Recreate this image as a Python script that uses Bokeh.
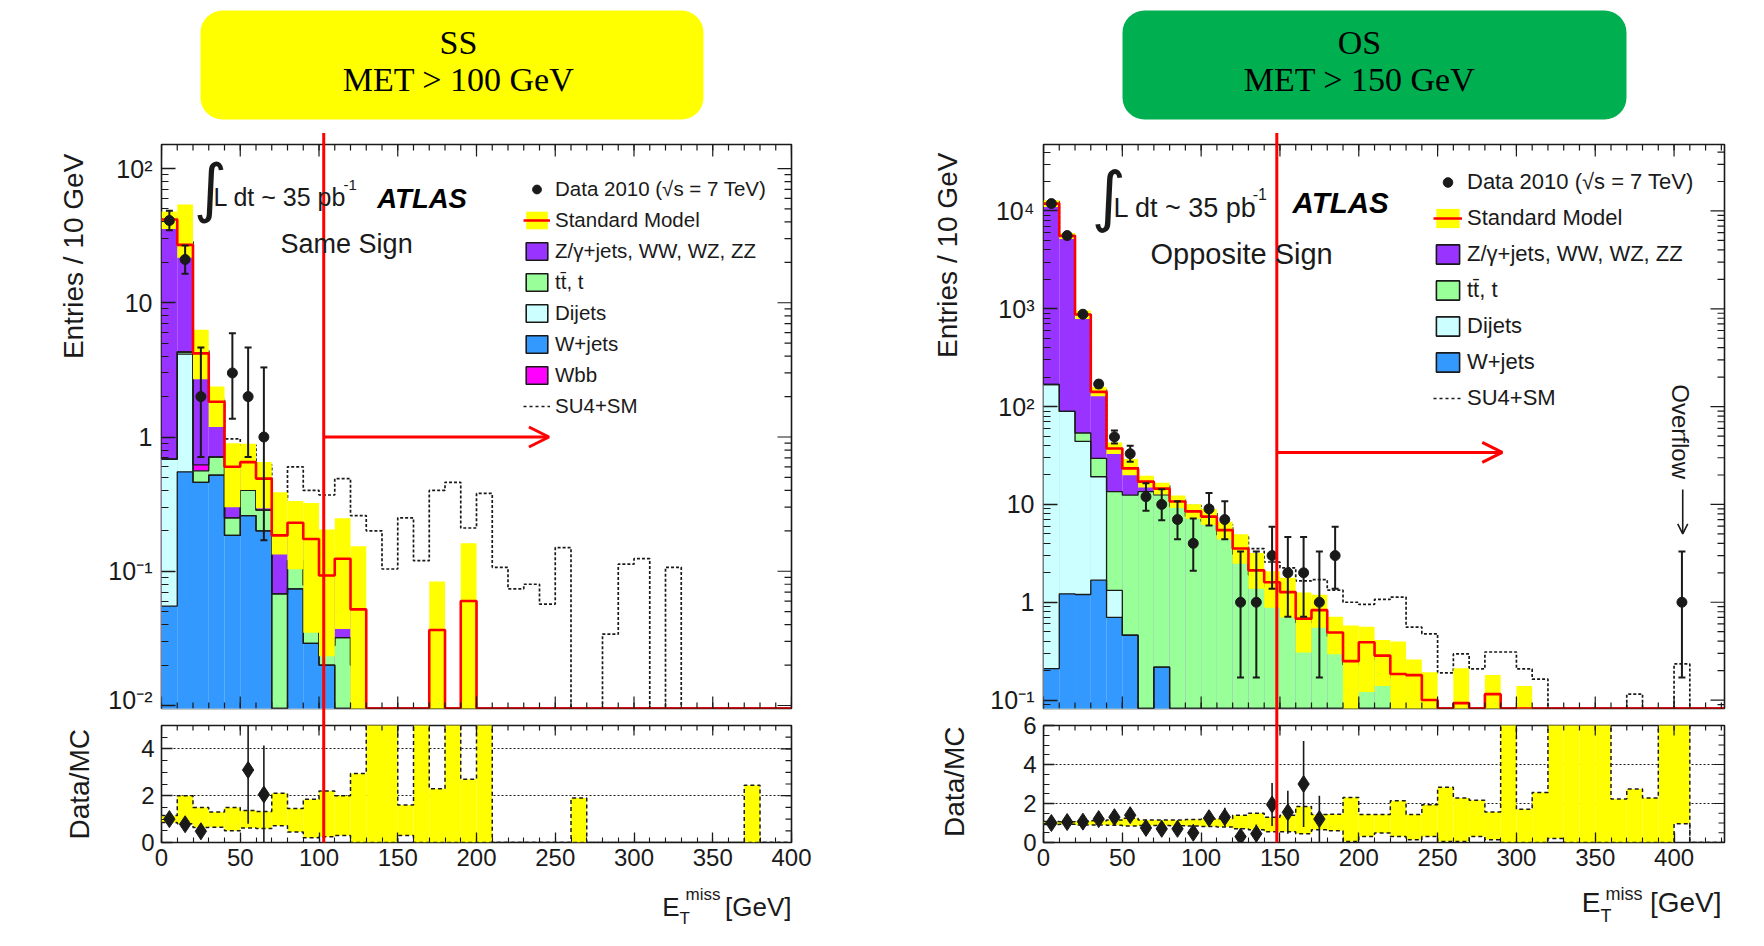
import math

from bokeh.core.properties import value
from bokeh.embed import file_html
from bokeh.layouts import column, row
from bokeh.models import (Arrow, FixedTicker, Legend, LegendItem, OpenHead, Range1d)
from bokeh.plotting import figure
from bokeh.resources import INLINE

BIN = 10  # GeV per histogram bin

# ---------------------------------------------------------------- style
C_Z, C_TT, C_QCD, C_W, C_WBB = "#9933ff", "#99ff99", "#ccffff", "#3399ff", "#ff00ff"
C_BAND, C_SM = "#ffff00", "#ff0000"
INK = "#1a1a1a"
SANS, SERIF = "Liberation Sans", "Liberation Serif"

# ---------------------------------------------------------------- same-sign channel (0-400 GeV)
ss_wjets = [0.055, 0.55, 0.46, 0.52, 0.185, 0.26, 0.20, 0, 0.074, 0.029,
            0.02, 0, 0, 0, 0, 0, 0, 0, 0, 0,
            0, 0, 0, 0, 0, 0, 0, 0, 0, 0,
            0, 0, 0, 0, 0, 0, 0, 0, 0, 0]
ss_dijets = [0.63, 3.6, 0, 0, 0, 0, 0, 0, 0, 0,
             0, 0, 0, 0, 0, 0, 0, 0, 0, 0,
             0, 0, 0, 0, 0, 0, 0, 0, 0, 0,
             0, 0, 0, 0, 0, 0, 0, 0, 0, 0]
ss_ttbar = [0, 0.15, 0.10, 0.19, 0.065, 0.14, 0.085, 0.068, 0.046, 0.05,
            0.008, 0.032, 0.02, 0, 0, 0, 0, 0, 0, 0,
            0, 0, 0, 0, 0, 0, 0, 0, 0, 0,
            0, 0, 0, 0, 0, 0, 0, 0, 0, 0]
ss_wbb = [0, 0, 0.06, 0, 0, 0, 0, 0, 0, 0,
          0, 0, 0, 0, 0, 0, 0, 0, 0, 0,
          0, 0, 0, 0, 0, 0, 0, 0, 0, 0,
          0, 0, 0, 0, 0, 0, 0, 0, 0, 0]
ss_zjets = [41.0, 22.7, 3.58, 1.12, 0.35, 0.25, 0.205, 0.117, 0.11, 0.095,
            0.065, 0.092, 0.032, 0, 0, 0, 0, 0.0365, 0, 0.060,
            0, 0, 0, 0, 0, 0, 0, 0, 0, 0,
            0, 0, 0, 0, 0, 0, 0, 0, 0, 0]
ss_su4 = [43.0, 28.5, 4.4, 1.95, 0.97, 0.87, 0.62, 0.34, 0.60, 0.40,
          0.37, 0.49, 0.26, 0.20, 0.104, 0.25, 0.12, 0.40, 0.46, 0.21,
          0.38, 0.107, 0.074, 0.080, 0.057, 0.15, 0, 0, 0.034, 0.113,
          0.124, 0, 0.107, 0, 0, 0, 0, 0, 0, 0]
# relative SM uncertainty (band / SM)
ss_band_lo = [0.85, 0.80, 0.64, 0.65, 0.50, 0.62, 0.60, 0.72, 0.45, 0.20,
              0.25, 0.30, 0.0, 0.0, 0.0, 0.30, 0.0, 0.0, 0.0, 0.0,
              0, 0, 0, 0, 0, 0, 0, 0, 0, 0,
              0, 0, 0, 0, 0, 0, 0, 0, 0, 0]
ss_band_hi = [1.15, 2.0, 1.5, 1.3, 1.5, 1.37, 1.33, 2.1, 1.45, 1.85,
              2.2, 2.0, 2.95, 6.0, 6.0, 1.6, 6.0, 2.3, 6.0, 2.7,
              6.0, 0, 0, 0, 0, 0, 1.9, 0, 0, 0,
              0, 0, 0, 0, 0, 0, 0, 2.45, 0, 0]
ss_data_bin = [0, 1, 2, 4, 5, 6]
ss_data = [41, 21, 2, 3, 2, 1]
ss_data_lo = [6.38, 4.55, 1.29, 1.63, 1.29, 0.83]
ss_data_hi = [7.45, 5.69, 2.64, 2.92, 2.64, 2.30]
ss_ratio_bin = [0, 1, 2, 5, 6]
ss_ratio = [1.0, 0.78, 0.48, 3.1, 2.05]
ss_ratio_err = [0.16, 0.17, 0.34, 2.3, 2.1]
ss_title = ["SS", "MET > 100 GeV"]
ss_cut = 103

# ---------------------------------------------------------------- opposite-sign channel (0-410 GeV, last bin = overflow)
os_wjets = [0.21, 1.22, 1.20, 1.68, 0.70, 0.46, 0, 0.217, 0, 0,
            0, 0, 0, 0, 0, 0, 0, 0, 0, 0,
            0, 0, 0, 0, 0, 0, 0, 0, 0, 0,
            0, 0, 0, 0, 0, 0, 0, 0, 0, 0,
            0]
os_dijets = [168, 88, 43, 17.5, 0.62, 0, 0, 0, 0, 0,
             0, 0, 0, 0, 0, 0, 0, 0, 0, 0,
             0, 0, 0, 0, 0, 0, 0, 0, 0, 0,
             0, 0, 0, 0, 0, 0, 0, 0, 0, 0,
             0]
os_ttbar = [0, 0, 9.5, 10.4, 12.2, 12.0, 13.5, 12.3, 9.5, 7.6,
            6.7, 4.9, 3.1, 1.9, 1.45, 1.15, 0.62, 0.75, 0.45, 0.23,
            0.36, 0.26, 0.17, 0.165, 0.10, 0.02, 0.093, 0.03, 0.115, 0.01,
            0.082, 0.02, 0.005, 0.005, 0.005, 0.005, 0.02, 0.02, 0.02, 0.005,
            0.01]
os_zjets = [11730, 5480, 821, 112, 23.8, 10.9, 3.6, 2.0, 1.2, 0.9,
            0.8, 0.56, 0.44, 0.22, 0.15, 0.12, 0.06, 0.08, 0.04, 0.02,
            0.03, 0.025, 0.015, 0.015, 0, 0, 0, 0, 0, 0,
            0, 0, 0, 0, 0, 0, 0, 0, 0, 0,
            0]
os_su4 = [12500, 5700, 900, 148, 39, 24.5, 18, 15.5, 11.5, 9.7,
          8.2, 6.2, 4.67, 3.54, 2.58, 2.25, 1.65, 1.7, 1.33, 1.0,
          0.95, 1.07, 1.13, 0.557, 0.476, 0.19, 0.296, 0.208, 0.31, 0.31,
          0.208, 0.164, 0, 0, 0, 0, 0, 0.115, 0, 0,
          0.234]
os_band_lo = [0.92, 0.93, 0.90, 0.90, 0.88, 0.85, 0.87, 0.87, 0.86, 0.84,
              0.82, 0.80, 0.70, 0.65, 0.55, 0.55, 0.45, 0.66, 0.60, 0.05,
              0.31, 0.49, 0.31, 0.14, 0.31, 0.05, 0.05, 0.31, 0.14, 0.0,
              0.0, 0.0, 0.20, 0.0, 0.0, 0.0, 0.0, 0.0, 0.0, 0.0,
              0.96]
os_band_hi = [1.08, 1.07, 1.10, 1.12, 1.15, 1.25, 1.15, 1.15, 1.15, 1.18,
              1.20, 1.22, 1.40, 1.50, 1.30, 1.40, 1.85, 1.44, 1.45, 2.31,
              1.44, 1.44, 2.14, 1.44, 1.93, 2.83, 2.28, 2.17, 1.57, 7.0,
              1.70, 2.57, 7.0, 7.0, 7.0, 7.0, 2.23, 2.75, 2.28, 7.0,
              7.0]
os_data_bin = [0, 1, 2, 3, 4, 5, 6, 7, 8, 9, 10, 11, 12, 13, 14, 15, 16, 17, 18, 40]
os_data = [11900, 5600, 880, 170, 49, 33, 12, 10, 7, 4, 9, 7, 1, 1, 3, 2, 2, 1, 3, 1]
os_data_lo = [109, 75, 29.7, 13.0, 7.0, 5.7, 3.4, 3.1, 2.6, 1.9, 2.9, 2.6,
              0.83, 0.83, 1.63, 1.29, 1.29, 0.83, 1.63, 0.83]
os_data_hi = [110, 76, 30.7, 14.0, 8.0, 6.8, 4.5, 4.3, 3.8, 3.2, 4.1, 3.8,
              2.30, 2.30, 2.92, 2.64, 2.64, 2.30, 2.92, 2.30]
os_ratio_bin = [0, 1, 2, 3, 4, 5, 6, 7, 8, 9, 10, 11, 12, 13, 14, 15, 16, 17]
os_ratio = [1.0, 1.05, 1.07, 1.2, 1.3, 1.4, 0.75, 0.7, 0.7, 0.5, 1.25, 1.3,
            0.3, 0.45, 1.95, 1.55, 3.0, 1.2]
os_ratio_err = [0.01, 0.015, 0.036, 0.09, 0.19, 0.25, 0.21, 0.19, 0.25, 0.22, 0.4, 0.48,
                0.28, 0.47, 1.1, 1.1, 2.2, 1.2]
os_title = ["OS", "MET > 150 GeV"]
os_cut = 148

LBL_DATA = "Data 2010 (\u221as = 7 TeV)"
LBL_SM = "Standard Model"
LBL_Z = "Z/\u03b3+jets, WW, WZ, ZZ"
LBL_TT = "tt\u0304, t"
LBL_QCD = "Dijets"
LBL_W = "W+jets"
LBL_WBB = "Wbb"
LBL_SU4 = "SU4+SM"

MAIN_H, RATIO_H = 564, 117  # frame heights shared by both channels


def cumulative(layers):
    out, run = [], [0.0] * len(layers[0])
    for vals in layers:
        run = [a + b for a, b in zip(run, vals)]
        out.append(run)
    return out


def step_xy(vals, floor, xmax):
    xs = [i * BIN for i in range(len(vals))]
    ys = [max(v, floor) for v in vals]
    last = len(vals) * BIN
    xs.append(last)
    ys.append(ys[-1])
    if xmax > last:
        xs += [last, xmax]
        ys += [floor, floor]
    return xs, ys


def style_axis(ax, ticker, labels=None, size="24px", major=13, minor=7, standoff=9):
    ax.ticker = ticker
    ax.axis_line_color = None
    ax.axis_label = None
    ax.major_tick_in, ax.major_tick_out = major, 0
    ax.minor_tick_in, ax.minor_tick_out = minor, 0
    ax.major_tick_line_color = INK
    ax.minor_tick_line_color = INK
    ax.major_tick_line_width = 1.3
    ax.minor_tick_line_width = 1.1
    ax.major_label_text_font = SANS
    ax.major_label_text_font_size = size
    ax.major_label_text_color = INK
    ax.major_label_standoff = standoff
    if labels:
        ax.major_label_overrides = labels


def edge_ticks(p, side, ticks, where, length):
    """inward tick marks on a frame edge that carries no labelled axis"""
    angle = {"top": -math.pi / 2, "bottom": math.pi / 2, "right": math.pi}[side]
    if side in ("top", "bottom"):
        xs, ys = ticks, [where] * len(ticks)
    else:
        xs, ys = [where] * len(ticks), ticks
    p.ray(x=xs, y=ys, length=length, angle=angle, length_units="screen",
          line_color=INK, line_width=1.2)


def add_text(p, x, y, text, size, align="left", baseline="middle", angle=0.0,
             font=SANS, style="normal", color=INK, x_offset=0):
    # drawn as an overlay so that titles may sit in the frame borders
    p.text(x=[x], y=[y], text=[text], text_font=value(font), text_font_size=value(size),
           text_font_style=style, text_color=color, text_align=align,
           text_baseline=baseline, angle=angle, x_offset=x_offset, level="overlay")


def header(ch, title, box, cx, color):
    # same horizontal borders as the panels below it, x in column pixels
    x0 = 161
    p = figure(x_range=Range1d(x0, x0 + ch["frame_w"]), y_range=Range1d(133, 0),
               frame_width=ch["frame_w"], frame_height=133,
               min_border_left=161, min_border_right=ch["border_r"],
               min_border_top=0, min_border_bottom=0,
               x_axis_location=None, y_axis_location=None,
               toolbar_location=None, output_backend="svg")
    p.grid.visible = False
    p.outline_line_color = None
    p.quad(left=[box[0]], right=[box[1]], top=[10], bottom=[119], fill_color=color,
           line_color=None, border_radius=22)
    p.text(x=[cx, cx], y=[42, 79], text=title, text_font=value(SERIF),
           text_font_size="34px", text_align="center", text_baseline="middle",
           text_color="#000000")
    return p


def main_panel(ch):
    xmax = ch["xmax"]
    ymin, ymax = ch["yrange"]
    p = figure(x_range=Range1d(0, xmax), y_range=Range1d(ymin, ymax), y_axis_type="log",
               frame_width=ch["frame_w"], frame_height=MAIN_H,
               min_border_left=161, min_border_right=ch["border_r"],
               min_border_top=11, min_border_bottom=5, x_axis_location=None,
               toolbar_location=None, output_backend="svg")
    p.grid.visible = False
    p.outline_line_color = INK
    p.outline_line_width = 1.6

    comps = ch["comps"]
    n = len(comps[ch["stack"][0]][1])
    low = ymin / 100
    lefts = [i * BIN for i in range(n)]
    rights = [(i + 1) * BIN for i in range(n)]
    cum = cumulative([comps[k][1] for k in ch["stack"]])
    sm = cum[-1]

    # stacked backgrounds, drawn from the top of the stack down
    for key, top in reversed(list(zip(ch["stack"], cum))):
        idx = [i for i in range(n) if top[i] > 0]
        p.quad(left=[lefts[i] for i in idx], right=[rights[i] for i in idx], bottom=low,
               top=[top[i] for i in idx], fill_color=comps[key][2], line_color=None)
    for top in cum:
        xs, ys = step_xy(top, ymin, xmax)
        p.step(xs, ys, mode="after", line_color=INK, line_width=1.3)

    xs, ys = step_xy(ch["su4"], ymin, xmax)
    p.step(xs, ys, mode="after", line_color=INK, line_width=1.7, line_dash="3 2")

    lo = [s * f for s, f in zip(sm, ch["band_lo"])]
    hi = [s * f for s, f in zip(sm, ch["band_hi"])]
    idx = [i for i in range(n) if hi[i] > 0]
    p.quad(left=[lefts[i] for i in idx], right=[rights[i] for i in idx],
           bottom=[max(lo[i], low) for i in idx], top=[hi[i] for i in idx],
           fill_color=C_BAND, line_color=None)
    xs, ys = step_xy(sm, ymin, xmax)
    p.step(xs, ys, mode="after", line_color=C_SM, line_width=2.6)

    xc = [(b + 0.5) * BIN for b in ch["data_bin"]]
    yv = ch["data"]
    ylo = [v - e for v, e in zip(yv, ch["data_lo"])]
    yhi = [v + e for v, e in zip(yv, ch["data_hi"])]
    p.segment(x0=xc, y0=ylo, x1=xc, y1=yhi, line_color=INK, line_width=2)
    p.scatter(x=xc + xc, y=ylo + yhi, marker="dash", size=7, line_color=INK, line_width=2)
    p.scatter(x=xc, y=yv, marker="circle", size=10, fill_color=INK, line_color=INK)

    # selection cut
    cut = ch["cut"]
    p.segment(x0=[cut], y0=[ymin / 1000], x1=[cut], y1=[ymax * 1000], line_color=C_SM,
              line_width=3, level="overlay")
    ax_y, ax_end = ch["arrow"]
    p.add_layout(Arrow(end=OpenHead(size=20, line_color=C_SM, line_width=3),
                       x_start=cut, y_start=ax_y, x_end=ax_end, y_end=ax_y,
                       line_color=C_SM, line_width=3))

    for t in ch["texts"]:
        add_text(p, **t)
    for a in ch.get("arrows", []):
        p.add_layout(Arrow(end=OpenHead(size=10, line_color=INK, line_width=1.6),
                           line_color=INK, line_width=1.6, **a))

    # legend swatches: glyphs parked outside the visible ranges
    ox, oy = -10.0 * xmax, ymin / 1000

    def swatch_quad(**kw):
        return p.quad(left=[ox], right=[ox + 1], bottom=[oy], top=[oy * 2], **kw)

    def swatch_line(**kw):
        return p.line(x=[ox, ox + 1], y=[oy, oy], **kw)

    items = [LegendItem(label=LBL_DATA, renderers=[
        p.scatter(x=[ox], y=[oy], marker="circle", size=9, fill_color=INK, line_color=INK)])]
    items.append(LegendItem(label=LBL_SM, renderers=[
        swatch_quad(fill_color=C_BAND, line_color=None),
        swatch_line(line_color=C_SM, line_width=2.5)]))
    for key in ch["legend"]:
        label, _, color = comps[key]
        items.append(LegendItem(label=label, renderers=[
            swatch_quad(fill_color=color, line_color=INK, line_width=1.6)]))
    items.append(LegendItem(label=LBL_SU4, renderers=[
        swatch_line(line_color=INK, line_width=1.6, line_dash="3 3")]))
    lg = ch["leg"]
    p.add_layout(Legend(items=items, location=lg["loc"], glyph_width=lg["gw"],
                        glyph_height=lg["gh"], label_height=lg["gh"], spacing=lg["sp"],
                        padding=0, margin=0, label_standoff=5,
                        label_text_font=SANS, label_text_font_size=lg["size"],
                        label_text_color=INK, border_line_color=None,
                        background_fill_alpha=0))

    # ticks on all four sides, pointing inwards
    yt = FixedTicker(ticks=list(ch["ylabels"].keys()), minor_ticks=ch["yminor"])
    style_axis(p.yaxis[0], yt, ch["ylabels"], size="25px", major=14, minor=7)
    edge_ticks(p, "top", ch["xticks"], ymax, 12)
    edge_ticks(p, "top", ch["xminor"], ymax, 6)
    edge_ticks(p, "bottom", ch["xticks"], ymin, 12)
    edge_ticks(p, "bottom", ch["xminor"], ymin, 6)
    edge_ticks(p, "right", list(ch["ylabels"].keys()), xmax, 14)
    edge_ticks(p, "right", ch["yminor"], xmax, 7)
    return p


def ratio_panel(ch):
    xmax = ch["xmax"]
    rmax = ch["rmax"]
    p = figure(x_range=Range1d(0, xmax), y_range=Range1d(0, rmax),
               frame_width=ch["frame_w"], frame_height=RATIO_H,
               min_border_left=161, min_border_right=ch["border_r"],
               min_border_top=12, min_border_bottom=100,
               toolbar_location=None, output_backend="svg")
    p.xgrid.visible = False
    p.ygrid.ticker = FixedTicker(ticks=[2, 4])
    p.ygrid.grid_line_color = INK
    p.ygrid.grid_line_dash = "2 2"
    p.ygrid.grid_line_width = 1
    p.outline_line_color = INK
    p.outline_line_width = 1.6

    lo, hi = ch["band_lo"], ch["band_hi"]
    n = len(lo)
    idx = [i for i in range(n) if hi[i] > lo[i]]
    p.quad(left=[i * BIN for i in idx], right=[(i + 1) * BIN for i in idx],
           bottom=[lo[i] for i in idx], top=[hi[i] for i in idx],
           fill_color=C_BAND, line_color=None)
    for edge in (lo, hi):
        xs, ys = step_xy(edge, 0, xmax)
        p.step(xs, ys, mode="after", line_color=INK, line_width=1.5, line_dash="4 3")

    xc = [(b + 0.5) * BIN for b in ch["ratio_bin"]]
    rv = ch["ratio"]
    p.segment(x0=xc, y0=[v - e for v, e in zip(rv, ch["ratio_err"])], x1=xc,
              y1=[v + e for v, e in zip(rv, ch["ratio_err"])], line_color=INK, line_width=1.6)
    p.scatter(x=xc, y=rv, marker="diamond", size=17, fill_color=INK, line_color=INK)

    cut = ch["cut"]
    p.segment(x0=[cut], y0=[0], x1=[cut], y1=[rmax * 5], line_color=C_SM, line_width=3,
              level="overlay")

    for t in ch["rtexts"]:
        add_text(p, **t)

    xt = FixedTicker(ticks=ch["xticks"], minor_ticks=ch["xminor"])
    yt = FixedTicker(ticks=ch["rticks"], minor_ticks=ch["rminor"])
    style_axis(p.xaxis[0], xt, None, major=10, minor=5, standoff=6)
    style_axis(p.yaxis[0], yt, None, major=11, minor=6, standoff=7)
    edge_ticks(p, "top", ch["xticks"], rmax, 10)
    edge_ticks(p, "top", ch["xminor"], rmax, 5)
    edge_ticks(p, "right", ch["rticks"], xmax, 11)
    edge_ticks(p, "right", ch["rminor"], xmax, 6)
    return p


def log_minor(lo_exp, hi_exp):
    return [k * 10.0 ** e for e in range(lo_exp, hi_exp) for k in range(2, 10)]


def xtitle(x, ye, ym, yt, offs, big="26px", small="17px"):
    # E_T^miss [GeV], right aligned on the frame edge
    o_gev, o_miss, o_e = offs
    return [
        dict(x=x, y=ye, text="[GeV]", size=big, align="right", x_offset=o_gev),
        dict(x=x, y=ym, text="miss", size=small, align="right", x_offset=o_miss),
        dict(x=x, y=ye, text="E", size=big, align="right", x_offset=o_e),
        dict(x=x, y=yt, text="T", size=small, align="left", x_offset=o_e),
    ]


ss = dict(
    comps={"z": (LBL_Z, ss_zjets, C_Z), "tt": (LBL_TT, ss_ttbar, C_TT),
           "qcd": (LBL_QCD, ss_dijets, C_QCD), "w": (LBL_W, ss_wjets, C_W),
           "wbb": (LBL_WBB, ss_wbb, C_WBB)},
    stack=["w", "qcd", "tt", "wbb", "z"],
    legend=["z", "tt", "qcd", "w", "wbb"],
    su4=ss_su4, band_lo=ss_band_lo, band_hi=ss_band_hi,
    data_bin=ss_data_bin, data=ss_data, data_lo=ss_data_lo, data_hi=ss_data_hi,
    ratio_bin=ss_ratio_bin, ratio=ss_ratio, ratio_err=ss_ratio_err,
    cut=ss_cut, arrow=(1.0, 246),
    xmax=400, yrange=(0.0095, 151), rmax=5,
    frame_w=630, border_r=91,
    xticks=list(range(0, 401, 50)), xminor=list(range(0, 401, 10)),
    ylabels={0.01: "10\u207b\u00b2", 0.1: "10\u207b\u00b9", 1.0: "1", 10.0: "10",
             100.0: "10\u00b2"},
    yminor=log_minor(-3, 3),
    rticks=[0, 2, 4], rminor=[0.5 * k for k in range(0, 11)],
    texts=[
        dict(x=20.5, y=72, text="\u222b", size="64px", font="DejaVu Sans"),
        dict(x=33, y=61.8, text="L dt ~ 35 pb", size="25px"),
        dict(x=115.6, y=75.9, text="-1", size="15px"),
        dict(x=137, y=59.7, text="ATLAS", size="27.5px", style="bold italic",
             color="#000000"),
        dict(x=75.6, y=27.6, text="Same Sign", size="27px"),
        dict(x=-55.9, y=129, text="Entries / 10 GeV", size="28px", align="right",
             angle=math.pi / 2),
    ],
    rtexts=[dict(x=-52, y=4.85, text="Data/MC", size="28px", align="right",
                 angle=math.pi / 2)] + xtitle(400, -2.76, -2.24, -3.23, (0, -71, -112)),
    leg=dict(loc=(362, 290), gw=27, gh=22, sp=7, size="20.5px"),
)

os_ = dict(
    comps={"z": (LBL_Z, os_zjets, C_Z), "tt": (LBL_TT, os_ttbar, C_TT),
           "qcd": (LBL_QCD, os_dijets, C_QCD), "w": (LBL_W, os_wjets, C_W)},
    stack=["w", "qcd", "tt", "z"],
    legend=["z", "tt", "qcd", "w"],
    su4=os_su4, band_lo=os_band_lo, band_hi=os_band_hi,
    data_bin=os_data_bin, data=os_data, data_lo=os_data_lo, data_hi=os_data_hi,
    ratio_bin=os_ratio_bin, ratio=os_ratio, ratio_err=os_ratio_err,
    cut=os_cut, arrow=(34, 291),
    xmax=432, yrange=(0.082, 47800), rmax=6,
    frame_w=681, border_r=40,
    xticks=list(range(0, 401, 50)), xminor=list(range(0, 431, 10)),
    ylabels={0.1: "10\u207b\u00b9", 1.0: "1", 10.0: "10", 100.0: "10\u00b2",
             1000.0: "10\u00b3", 10000.0: "10\u2074"},
    yminor=log_minor(-2, 5),
    rticks=[0, 2, 4, 6], rminor=[0.5 * k for k in range(0, 13)],
    texts=[
        dict(x=30.5, y=13900, text="\u222b", size="66px", font="DejaVu Sans"),
        dict(x=44.4, y=10790, text="L dt ~ 35 pb", size="27px"),
        dict(x=132.7, y=15000, text="-1", size="16px"),
        dict(x=158, y=12100, text="ATLAS", size="29.5px", style="bold italic",
             color="#000000"),
        dict(x=67.9, y=3640, text="Opposite Sign", size="29px"),
        dict(x=-61, y=39500, text="Entries / 10 GeV", size="28px", align="right",
             angle=math.pi / 2),
        dict(x=404.4, y=169, text="Overflow", size="24px", align="left",
             angle=-math.pi / 2),
    ],
    arrows=[dict(x_start=405.5, y_start=14.2, x_end=405.5, y_end=5.0)],
    rtexts=[dict(x=-56.5, y=5.95, text="Data/MC", size="28px", align="right",
                 angle=math.pi / 2)] + xtitle(432, -3.08, -2.62, -3.78, (-3, -82, -124),
                                              big="28px", small="18px"),
    leg=dict(loc=(390, 297), gw=29, gh=24, sp=10, size="22px"),
)

left = column(header(ss, ss_title, (200, 703), 458, "#ffff00"), main_panel(ss), ratio_panel(ss))
right = column(header(os_, os_title, (240, 744), 477, "#00b050"), main_panel(os_),
               ratio_panel(os_))
p = row(left, right)

open("out.html", "w").write(file_html(p, INLINE))
